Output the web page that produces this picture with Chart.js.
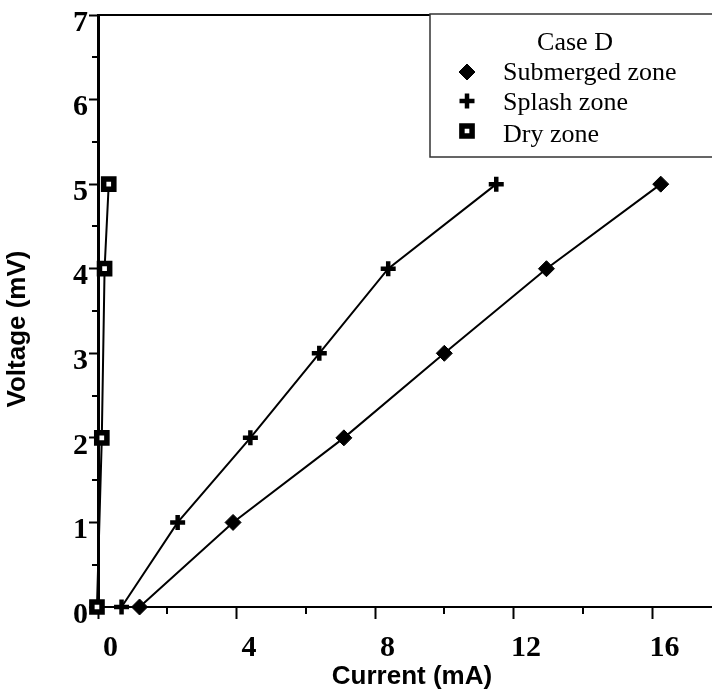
<!DOCTYPE html>
<html><head><meta charset="utf-8">
<script src="https://cdn.jsdelivr.net/npm/chart.js@4/dist/chart.umd.min.js"></script>
<style>html,body{margin:0;padding:0;background:#fff}#wrap{width:712px;height:696px;position:relative}</style>
</head><body><div id="wrap"><canvas id="c"></canvas></div>
<script>
// ---- data ----
const legendTitle = 'Case D';
const seriesNames = ['Submerged zone', 'Splash zone', 'Dry zone'];
const submergedCurrent = [1.2, 3.9, 7.1, 10.0, 12.95, 16.25];
const submergedVoltage = [0, 1, 2, 3, 4, 5];
const splashCurrent = [0.68, 2.3, 4.4, 6.39, 8.38, 11.5];
const splashVoltage = [0, 1, 2, 3, 4, 5];
const dryCurrent = [-0.03, 0.11, 0.19, 0.31];
const dryVoltage = [0, 2, 4, 5];
const xMinorTicks = [2, 6, 10, 14];
const yMinorTicks = [0.5, 1.5, 2.5, 3.5, 4.5, 5.5, 6.5];
const xTitle = 'Current (mA)';
const yTitle = 'Voltage (mV)';

function pts(xs, ys) { return xs.map((x, i) => ({x: x, y: ys[i]})); }

const styles = [
  {pointStyle: 'rectRot', radius: 8, borderWidth: 1, bg: '#000'},
  {pointStyle: 'cross', radius: 7.5, borderWidth: 4.5, bg: '#000'},
  {pointStyle: 'rect', radius: 7.2, borderWidth: 5.5, bg: '#fff'}
];
const seriesData = [pts(submergedCurrent, submergedVoltage), pts(splashCurrent, splashVoltage), pts(dryCurrent, dryVoltage)];

const datasets = seriesData.map((d, i) => ({
  label: seriesNames[i],
  data: d,
  showLine: true,
  borderColor: '#000',
  borderWidth: 2,
  backgroundColor: styles[i].bg,
  pointStyle: styles[i].pointStyle,
  pointRadius: styles[i].radius,
  pointBorderWidth: styles[i].borderWidth,
  pointBorderColor: '#000',
  pointBackgroundColor: styles[i].bg,
  tension: 0,
  clip: false
}));

function drawMarker(ctx, st, x, y) {
  ctx.save();
  ctx.fillStyle = st.bg; ctx.strokeStyle = '#000'; ctx.lineWidth = st.borderWidth;
  if (window.Chart && Chart.helpers && Chart.helpers.drawPoint) {
    Chart.helpers.drawPoint(ctx, {pointStyle: st.pointStyle, radius: st.radius, borderWidth: st.borderWidth, rotation: 0}, x, y);
  } else {
    ctx.beginPath();
    const r = st.radius;
    if (st.pointStyle === 'rectRot') { ctx.moveTo(x - r, y); ctx.lineTo(x, y - r); ctx.lineTo(x + r, y); ctx.lineTo(x, y + r); ctx.closePath(); ctx.fill(); ctx.stroke(); }
    else if (st.pointStyle === 'cross') { ctx.moveTo(x, y - r); ctx.lineTo(x, y + r); ctx.moveTo(x - r, y); ctx.lineTo(x + r, y); ctx.stroke(); }
    else { const s = r * Math.SQRT1_2; ctx.rect(x - s, y - s, 2 * s, 2 * s); ctx.fill(); ctx.stroke(); }
  }
  ctx.restore();
}

const decor = {
  id: 'decor',
  afterDraw(chart) {
    const ctx = chart.ctx, a = chart.chartArea;
    const xs = chart.scales.x, ys = chart.scales.y;
    ctx.save();
    ctx.strokeStyle = '#000';
    ctx.lineWidth = 2;
    ctx.beginPath(); ctx.moveTo(a.left, a.top); ctx.lineTo(a.right, a.top); ctx.stroke();
    ctx.beginPath();
    xMinorTicks.forEach(v => { const p = Math.round(xs.getPixelForValue(v)); ctx.moveTo(p, a.bottom); ctx.lineTo(p, a.bottom + 7); });
    yMinorTicks.forEach(v => { const p = Math.round(ys.getPixelForValue(v)); ctx.moveTo(a.left, p); ctx.lineTo(a.left - 6, p); });
    ctx.stroke();
    // axis titles
    ctx.fillStyle = '#000';
    ctx.font = 'bold 26px "Liberation Sans", Arial, sans-serif';
    ctx.textAlign = 'center'; ctx.textBaseline = 'middle';
    ctx.fillText(xTitle, 412, 677);
    ctx.save(); ctx.translate(18, 329); ctx.rotate(-Math.PI / 2); ctx.fillText(yTitle, 0, 0); ctx.restore();
    // legend box
    const bx = 430, by = 14, bw = 300, bh = 143;
    ctx.fillStyle = '#fff';
    ctx.fillRect(bx, by, bw, bh);
    ctx.strokeStyle = '#333'; ctx.lineWidth = 1.5;
    ctx.strokeRect(bx, by, bw, bh);
    ctx.fillStyle = '#000';
    ctx.font = '26px "Liberation Serif", "Times New Roman", serif';
    ctx.textBaseline = 'alphabetic';
    ctx.textAlign = 'center';
    ctx.fillText(legendTitle, 575, 50);
    ctx.textAlign = 'left';
    const rows = [{b: 80, m: 72}, {b: 110, m: 101}, {b: 142, m: 131}];
    seriesNames.forEach((n, i) => {
      ctx.fillStyle = '#000';
      ctx.fillText(n, 503, rows[i].b);
      drawMarker(ctx, styles[i], 467, rows[i].m);
    });
    ctx.restore();
  }
};

new Chart(document.getElementById('c'), {
  type: 'scatter',
  data: {datasets: datasets},
  options: {
    responsive: true,
    maintainAspectRatio: false,
    animation: false,
    devicePixelRatio: 1,
    layout: {autoPadding: false, padding: {top: 15, right: 0, left: 0, bottom: 0}},
    plugins: {legend: {display: false}, tooltip: {enabled: false}},
    scales: {
      x: {
        type: 'linear', position: 'bottom', min: 0, max: 17.73,
        ticks: {stepSize: 4, includeBounds: false, color: '#000', padding: 11, labelOffset: 12.5, maxRotation: 0,
          font: {family: '"Liberation Serif", "Times New Roman", serif', size: 30, weight: 'bold'}},
        grid: {drawOnChartArea: false, drawTicks: true, tickLength: 12, tickWidth: 2, tickColor: '#000'},
        border: {display: true, color: '#000', width: 2},
        title: {display: false},
        afterFit(s) { s.height = 89; s.paddingLeft = 0; s.paddingRight = 0; }
      },
      y: {
        type: 'linear', position: 'left', min: 0, max: 7,
        ticks: {stepSize: 1, color: '#000', padding: 1, labelOffset: 8,
          font: {family: '"Liberation Serif", "Times New Roman", serif', size: 30, weight: 'bold'}},
        grid: {drawOnChartArea: false, drawTicks: true, tickLength: 9, tickWidth: 2, tickColor: '#000'},
        border: {display: true, color: '#000', width: 3},
        title: {display: false},
        afterFit(s) { s.width = 98; s.paddingTop = 0; s.paddingBottom = 0; }
      }
    }
  },
  plugins: [decor]
});
</script>
</body></html>
